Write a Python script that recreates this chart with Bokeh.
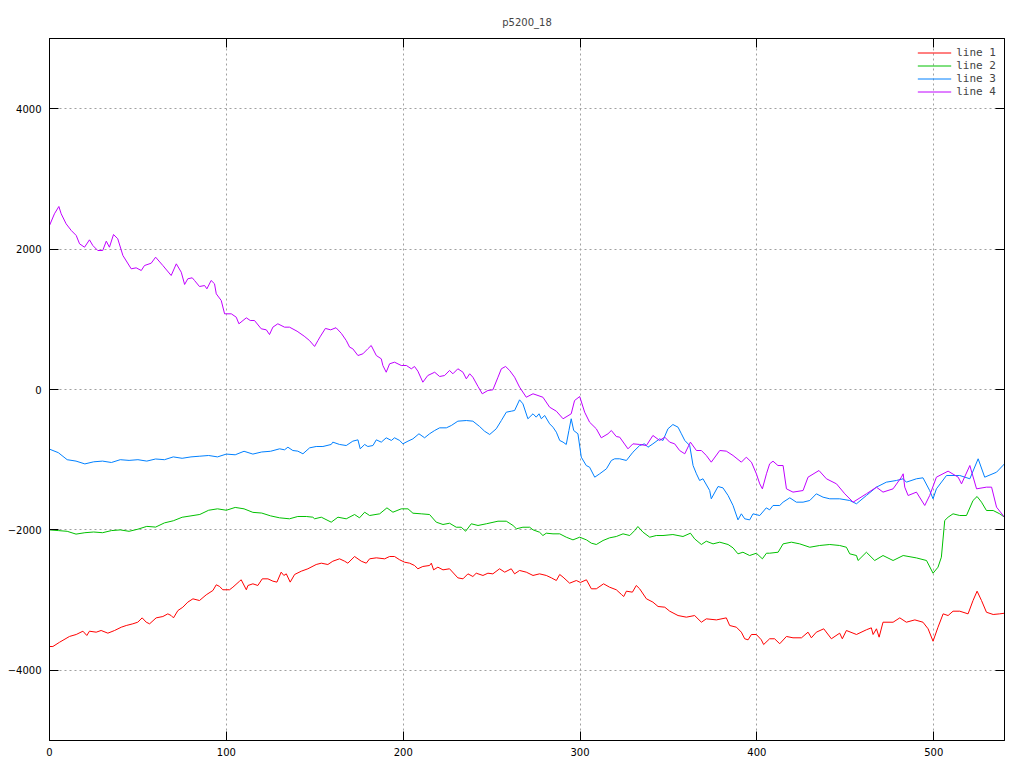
from bokeh.plotting import figure
from bokeh.models import Range1d, LinearAxis, FixedTicker, Legend, LegendItem
from bokeh.embed import file_html
from bokeh.resources import INLINE

TITLE = "p5200_18"
X_TICKS = [0, 100, 200, 300, 400, 500]
Y_TICKS = [-4000, -2000, 0, 2000, 4000]
LABELS = ["line 1", "line 2", "line 3", "line 4"]
COLORS = ["#ff0000", "#00c000", "#0080ff", "#c000ff"]

line1_x = [0, 1.9, 5.7, 11.3, 15.1, 18.9, 21.1, 22.6, 26.4, 29.2, 33, 36.8, 40.6, 43.4, 47.1, 49.9, 52.4, 54.7, 56.6, 60.3,
           64.1, 66.9, 68.8, 70.1, 72.6, 75.4, 78.2, 81.1, 84.8, 88.6, 92.4, 94.3, 96.2, 98, 101.8, 103.7, 107.5, 108.4, 111.3, 112.2,
           115, 117.8, 120.3, 123.5, 126.3, 128.6, 131, 132.5, 133.9, 136.1, 138.6, 142.4, 146.1, 150.8, 153.7, 157.4, 160.2, 164, 166.9, 168.7,
           172.5, 176.3, 179.1, 181, 184.8, 189.5, 192.3, 195.1, 198, 200.8, 203.6, 206.4, 208.3, 211.1, 214.9, 215.9, 217.2, 219.6, 222.5, 226.2,
           230.9, 233.8, 236.6, 239.4, 241.3, 245.1, 247.9, 250.7, 254.5, 257.4, 261.1, 263, 265.8, 269.6, 273.4, 277.1, 280.9, 283.8, 286.6, 288.5,
           290.4, 294.1, 297.9, 300.2, 303.6, 306.4, 309.2, 313.3, 316.7, 320.5, 323.4, 324.7, 326.2, 329.6, 331.8, 333.7, 337.5, 341.2, 344.1, 347.9,
           350.7, 355.4, 360.1, 364.8, 368.6, 371.4, 377.1, 382.7, 384.6, 388.4, 391.2, 393.1, 395, 396.9, 399.7, 402.5, 403.8, 407.2, 410, 412.9,
           416.7, 420.4, 425.2, 428.9, 430.8, 433.6, 437.8, 442.1, 446.8, 448.3, 450.6, 456.3, 461.9, 464.7, 465.7, 467.6, 469.1, 471.3, 477, 480.8,
           484.5, 489.3, 493.9, 496.8, 499.6, 502.4, 505.3, 508.1, 510.9, 514.7, 519.4, 522.2, 524.5, 527, 529.8, 533.6, 537.3, 540]
line1_y = [-3661, -3661, -3600, -3518, -3490, -3443, -3504, -3443, -3457, -3433, -3471, -3433, -3386, -3362, -3338, -3315, -3253, -3315, -3338, -3253,
           -3234, -3196, -3220, -3253, -3149, -3101, -3029, -2982, -3006, -2925, -2863, -2782, -2806, -2853, -2853, -2816, -2730, -2711, -2853, -2792,
           -2768, -2792, -2697, -2697, -2730, -2744, -2602, -2649, -2626, -2744, -2635, -2588, -2554, -2493, -2474, -2493, -2446, -2412, -2446, -2474,
           -2379, -2446, -2474, -2412, -2398, -2412, -2379, -2379, -2426, -2460, -2474, -2507, -2554, -2521, -2507, -2474, -2569, -2531, -2569, -2554,
           -2683, -2697, -2626, -2664, -2617, -2649, -2617, -2626, -2554, -2602, -2554, -2626, -2578, -2602, -2649, -2626, -2649, -2683, -2721, -2635,
           -2673, -2759, -2721, -2749, -2711, -2839, -2839, -2768, -2816, -2853, -2920, -2949, -2873, -2887, -2792, -2839, -2981, -3029, -3091, -3101,
           -3158, -3220, -3243, -3220, -3315, -3267, -3282, -3253, -3362, -3386, -3457, -3551, -3566, -3490, -3490, -3566, -3633, -3551, -3551, -3622,
           -3518, -3537, -3537, -3457, -3537, -3457, -3409, -3551, -3471, -3551, -3433, -3490, -3423, -3395, -3490, -3409, -3528, -3315, -3315, -3253,
           -3315, -3282, -3315, -3409, -3586, -3386, -3196, -3220, -3158, -3158, -3196, -3006, -2873, -3006, -3173, -3205, -3196, -3187]

line2_x = [0, 5, 10, 15, 20, 25, 30, 35, 40, 45, 50, 55, 60, 65, 70, 75, 80, 85, 90, 95,
           100, 105, 110, 115, 120, 125, 130.1, 135.7, 140.4, 145.2, 148.9, 149.9, 153.7, 159.3, 163.1, 167.8, 172.5, 175.3, 178.2, 181,
           186.7, 190.8, 194.2, 198.9, 202.7, 205.5, 210.2, 214.9, 218.7, 222.5, 226.2, 230, 232.8, 235.3, 238.5, 242.3, 247, 253.6, 258.3, 262.1,
           264, 267.7, 271.5, 273.4, 277.1, 279, 280.9, 284.7, 288.5, 292.2, 296, 299.8, 303.6, 306.4, 309.2, 313, 316.7, 320.5, 324.3, 328.1,
           330.9, 332.7, 335.6, 339.4, 343.1, 346.9, 352.5, 358.2, 362.4, 364.8, 368.6, 371.4, 375.2, 379, 383.7, 386.5, 389.3, 392.1, 395.9, 399.7,
           403.1, 405.4, 407.2, 412, 414.8, 419.5, 424.2, 429.9, 435.5, 441.2, 446.8, 450.6, 452.5, 456.3, 457.2, 461.9, 466.6, 471.3, 477, 482.7,
           490.2, 495.9, 499.6, 502.4, 504.3, 506.2, 508.1, 510.9, 514.7, 518.5, 522.2, 524.5, 527, 529.8, 533.6, 537.3, 540]
line2_y = [-2000, -2010, -2020, -2060, -2040, -2030, -2040, -2010, -2000, -2020, -1990, -1950, -1960, -1900, -1870, -1820, -1800, -1780, -1720, -1700,
           -1720, -1680, -1700, -1750, -1760, -1800, -1828, -1842, -1809, -1809, -1819, -1842, -1819, -1890, -1819, -1842, -1781, -1828, -1748, -1795,
           -1771, -1686, -1748, -1700, -1700, -1762, -1771, -1781, -1890, -1923, -1905, -1962, -1962, -2019, -1913, -1937, -1913, -1876, -1876, -1937,
           -1984, -1962, -1962, -1999, -2033, -2080, -2047, -2056, -2056, -2104, -2142, -2104, -2142, -2189, -2208, -2151, -2113, -2094, -2056, -2080,
           -2009, -1952, -2033, -2104, -2080, -2080, -2066, -2094, -2047, -2128, -2208, -2161, -2199, -2175, -2208, -2256, -2341, -2318, -2365, -2332,
           -2412, -2332, -2332, -2318, -2199, -2175, -2199, -2247, -2222, -2208, -2222, -2247, -2341, -2365, -2436, -2318, -2436, -2365, -2436, -2365,
           -2399, -2436, -2617, -2531, -2389, -1866, -1819, -1771, -1795, -1795, -1581, -1524, -1605, -1724, -1724, -1771, -1819]

line3_x = [0, 5, 10, 15, 20, 25, 30, 35, 40, 45, 50, 55, 60, 65, 70, 75, 80, 85, 90, 95,
           100, 105, 110, 115, 120, 125, 130.1, 132.9, 134.8, 137.6, 140.4, 143.3, 147.1, 150.8, 154.6, 159.3, 160.2, 164, 167.8, 171.5,
           174.4, 175.7, 178.2, 180, 182.9, 184.8, 187.6, 190.4, 193.3, 195.1, 198, 199.8, 202.7, 205.5, 208.9, 212.1, 214.9, 217.8, 220.6, 224.4,
           227.2, 230.9, 235.7, 239.4, 243.2, 246, 248.9, 252.6, 255.5, 258.3, 261.1, 263, 265.8, 267.7, 270.5, 273.4, 275.2, 276.8, 278.1, 280,
           282.8, 284.7, 286.6, 288.5, 290.4, 292.2, 293.7, 295, 296.4, 298.8, 300.7, 303.5, 305.4, 308.3, 311.1, 314.9, 317.7, 319.6, 322.4, 326.2,
           329.9, 333.7, 336.5, 338.4, 341.2, 345, 346.9, 349.7, 352.5, 355.4, 357.3, 359.2, 362, 363.9, 365.8, 367.6, 369.5, 373.3, 374.2, 378,
           380.8, 383.7, 386.5, 389.3, 391.2, 393.1, 395.9, 397.8, 401.6, 405.3, 407.2, 409.1, 412.9, 414.8, 418.6, 422.3, 426.1, 429.9, 433.6, 437.4,
           441.2, 446.8, 452.5, 456.3, 461.9, 467.6, 473.2, 478.9, 482.7, 484.5, 490.2, 493.9, 497.7, 499.6, 501.5, 507.2, 514.7, 520.4, 525.1, 528.8,
           535.5, 540]
line3_y = [-850, -900, -1000, -1020, -1060, -1030, -1020, -1040, -1000, -1010, -1000, -1020, -990, -1000, -960, -980, -960, -950, -940, -960,
           -920, -930, -880, -920, -890, -880, -845, -859, -822, -869, -878, -916, -831, -812, -812, -783, -750, -783, -798, -736,
           -717, -845, -783, -812, -798, -717, -750, -688, -726, -688, -726, -774, -736, -703, -631, -688, -631, -584, -546, -546,
           -513, -451, -442, -451, -527, -594, -641, -560, -442, -323, -309, -299, -147, -204, -417, -346, -394, -346, -417, -370,
           -489, -537, -608, -726, -750, -783, -584, -417, -584, -631, -964, -1083, -1107, -1249, -1201, -1130, -1011, -987, -987, -1011,
           -893, -798, -774, -822, -774, -703, -726, -560, -499, -537, -631, -726, -798, -1083, -1201, -1296, -1272, -1439, -1557, -1382,
           -1401, -1510, -1652, -1857, -1771, -1842, -1857, -1771, -1795, -1686, -1714, -1652, -1652, -1605, -1543, -1605, -1605, -1581, -1486, -1534,
           -1557, -1557, -1581, -1628, -1510, -1391, -1320, -1296, -1272, -1320, -1272, -1258, -1439, -1557, -1415, -1225, -1225, -1272, -987, -1249,
           -1178, -1059]

line4_x = [0, 2.8, 5.3, 6.6, 9.4, 12.3, 15.1, 17, 19.8, 22.6, 24.5, 27.3, 30.1, 32.1, 33.9, 36.2, 38.6, 41.5, 46.2, 49,
           51.9, 53.7, 57.5, 60, 64.1, 68.8, 71.7, 74.5, 76.4, 78.2, 80.7, 82, 84.8, 87.7, 89, 91.4, 93.3, 94.3, 97.1, 99,
           102.8, 105.6, 107.1, 111.3, 113.5, 115.9, 119.7, 122.6, 124.4, 126.3, 129.1, 132.9, 135.7, 140, 144, 147, 149.9, 151.8, 153, 156,
           159, 162, 165, 167.8, 169.7, 171.5, 174.4, 177.2, 180, 181.9, 184.8, 187.6, 188.5, 190.4, 192.3, 195.1, 198.9, 201.8, 204.6, 206.4,
           208.3, 211.1, 213.9, 217.8, 220.6, 223.4, 226.2, 228.1, 230.9, 233.8, 235.7, 237.6, 239.4, 242.3, 244.7, 247.9, 250.7, 253.6, 255.5, 257.9,
           260.2, 263, 265.8, 269.6, 273.4, 279, 282.8, 286.6, 290.4, 295, 296.9, 299.8, 302.6, 305.4, 309.2, 312, 315.8, 317.7, 320.5, 322.4,
           327.1, 329.9, 333.7, 337.5, 341.2, 345, 347.9, 350.7, 353.5, 356.3, 359.2, 362.4, 365.8, 368.6, 371.4, 374.2, 379, 382.7, 386.5, 391.2,
           394, 396.9, 399.7, 401.6, 403.1, 405.4, 407.2, 409.1, 411.9, 414.8, 416.7, 420.4, 426.1, 428.9, 435.1, 439.3, 445, 449.7, 454.4, 461.9,
           467.6, 471.3, 477, 481.7, 482.7, 483.6, 485.5, 490.2, 494.9, 497.7, 501.5, 508.1, 513.8, 515.7, 520.4, 524.2, 529.8, 532.7, 535.5, 540]
line4_y = [2336, 2503, 2607, 2503, 2360, 2265, 2194, 2075, 2027, 2132, 2051, 1980, 1980, 2113, 2027, 2208, 2147, 1909, 1719, 1733,
           1695, 1766, 1799, 1885, 1766, 1624, 1790, 1671, 1496, 1577, 1591, 1553, 1467, 1481, 1434, 1553, 1506, 1363, 1268, 1078,
           1078, 1030, 936, 1021, 983, 983, 865, 850, 783, 888, 936, 888, 888, 830, 760, 698, 613, 698, 750, 870,
           850, 880, 800, 698, 603, 580, 484, 508, 580, 627, 484, 437, 342, 246, 366, 389, 342, 342, 295, 328,
           261, 104, 199, 246, 185, 199, 271, 224, 295, 246, 152, 224, 175, 43, -61, -14, -5, 175, 295, 328,
           271, 175, 33, -110, -61, -110, -252, -309, -417, -346, -157, -100, -323, -466, -560, -688, -631, -584, -670, -679,
           -845, -774, -783, -798, -655, -726, -679, -750, -774, -869, -916, -750, -869, -869, -940, -1035, -869, -878, -940, -1035,
           -964, -1035, -1201, -1344, -1415, -1201, -1059, -1021, -1083, -1083, -1415, -1462, -1439, -1249, -1154, -1272, -1344, -1486, -1605, -1486,
           -1391, -1462, -1415, -1249, -1201, -1391, -1510, -1462, -1652, -1510, -1249, -1163, -1249, -1344, -1083, -1415, -1391, -1391, -1676, -1819]

FONT = "DejaVu Sans"

p = figure(frame_width=955, frame_height=702, output_backend="svg", toolbar_location=None,
           x_range=Range1d(0, 540), y_range=Range1d(-5000, 5000),
           min_border_left=49, min_border_right=11, min_border_top=38, min_border_bottom=20,
           title=TITLE)
p.title.align = "center"
p.title.text_font = FONT
p.title.text_font_size = "10px"
p.title.text_font_style = "normal"
p.title.standoff = 22

p.outline_line_color = "black"
p.outline_line_width = 1
p.background_fill_color = "white"
p.border_fill_color = "white"

for ax, ticks in ((p.xaxis[0], X_TICKS), (p.yaxis[0], Y_TICKS)):
    ax.ticker = FixedTicker(ticks=ticks)
    ax.major_tick_in = 9
    ax.major_tick_out = 0
    ax.minor_tick_in = 0
    ax.minor_tick_out = 0
    ax.axis_line_color = "black"
    ax.major_tick_line_color = "black"
    ax.major_label_text_font = FONT
    ax.major_label_text_font_size = "10px"
    ax.major_label_text_color = "black"
p.xaxis[0].major_label_standoff = 7
p.yaxis[0].major_label_standoff = 8

for loc, ticks in (("above", X_TICKS), ("right", Y_TICKS)):
    a = LinearAxis(ticker=FixedTicker(ticks=ticks))
    a.major_tick_in = 9
    a.major_tick_out = 0
    a.minor_tick_in = 0
    a.minor_tick_out = 0
    a.major_label_text_font_size = "1px"
    a.major_label_text_alpha = 0
    a.major_label_standoff = 0
    a.axis_line_color = "black"
    p.add_layout(a, loc)

p.xgrid.ticker = FixedTicker(ticks=X_TICKS)
p.ygrid.ticker = FixedTicker(ticks=Y_TICKS)
for g in (p.xgrid[0], p.ygrid[0]):
    g.grid_line_color = "#a0a0a0"
    g.grid_line_dash = "2 3"
    g.grid_line_width = 1

series = [(line1_x, line1_y), (line2_x, line2_y), (line3_x, line3_y), (line4_x, line4_y)]
items = []
for (xs, ys), lab, col in zip(series, LABELS, COLORS):
    r = p.line(xs, ys, line_color=col, line_width=1)
    items.append(LegendItem(label=lab, renderers=[r]))

legend = Legend(items=items, location="top_right")
legend.border_line_alpha = 0
legend.background_fill_alpha = 0
legend.label_text_font = "DejaVu Sans Mono"
legend.label_text_font_size = "11px"
legend.glyph_height = 13
legend.label_height = 13
legend.glyph_width = 34
legend.spacing = 0
legend.padding = 4
legend.margin = 4
p.add_layout(legend)

open("out.html", "w").write(file_html(p, INLINE))
